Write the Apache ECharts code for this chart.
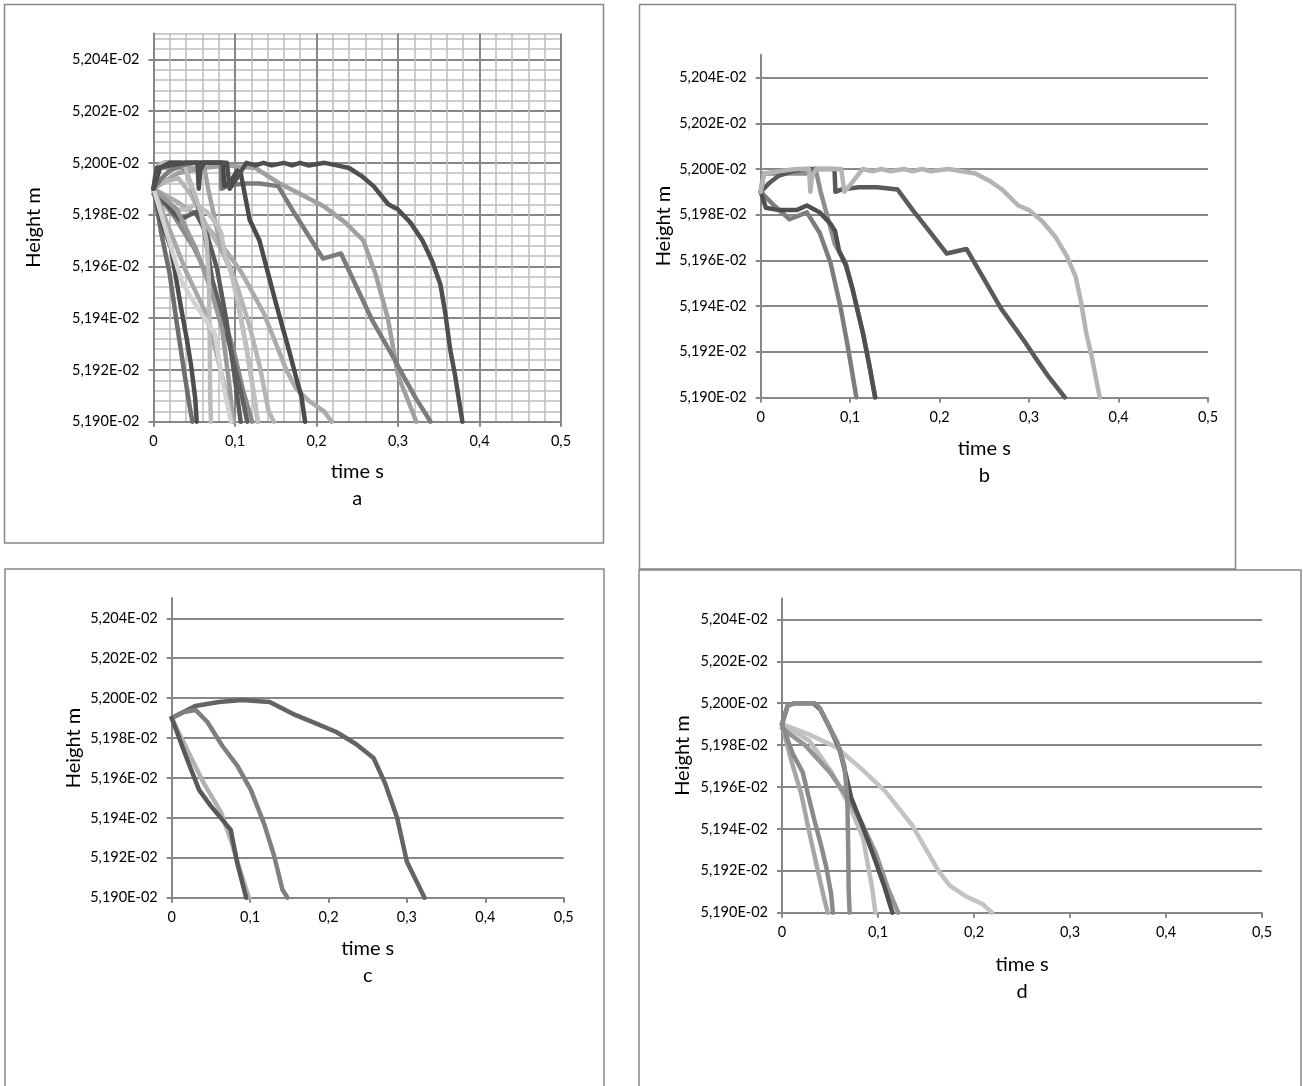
<!DOCTYPE html>
<html><head><meta charset="utf-8">
<script src="https://cdn.jsdelivr.net/npm/echarts@6/dist/echarts.min.js"></script>
<style>html,body{margin:0;padding:0;background:#fff}#c{width:1303px;height:1086px}</style>
</head><body><div id="c"></div>
<script>
// Heights are in units of 1E-02 m, time in s
const yTickValues = [5.190, 5.192, 5.194, 5.196, 5.198, 5.200, 5.202, 5.204];
const xTickValues = [0, 0.1, 0.2, 0.3, 0.4, 0.5];
const panelCaptions = ['a', 'b', 'c', 'd'];

// Panel b curves
const curveB1 = [[0,5.1990],[0.004,5.1998],[0.02,5.1999],[0.04,5.2000],[0.054,5.2000],[0.0555,5.1990],[0.0575,5.1997],[0.062,5.2000],[0.075,5.2000],[0.09,5.2000],[0.0935,5.1990],[0.1,5.1993],[0.108,5.1997],[0.114,5.2000],[0.125,5.1999],[0.135,5.2000],[0.145,5.1999],[0.16,5.2000],[0.17,5.1999],[0.18,5.2000],[0.19,5.1999],[0.21,5.2000],[0.225,5.1999],[0.24,5.1998],[0.255,5.1995],[0.27,5.1991],[0.288,5.1984],[0.3,5.1982],[0.315,5.1977],[0.33,5.1970],[0.342,5.1962],[0.352,5.1953],[0.358,5.1942],[0.364,5.1928],[0.37,5.1918],[0.374,5.1910],[0.379,5.1900]];
const curveB2 = [[0,5.1990],[0.01,5.1994],[0.02,5.1997],[0.035,5.1999],[0.05,5.2000],[0.0825,5.2000],[0.0835,5.1990],[0.09,5.1991],[0.11,5.1992],[0.13,5.1992],[0.153,5.1991],[0.17,5.1982],[0.19,5.1972],[0.208,5.1963],[0.23,5.1965],[0.2686,5.1939],[0.295,5.19245],[0.306,5.1918],[0.322,5.1909],[0.34,5.1900]];
const curveB3 = [[0,5.1990],[0.0058,5.1983],[0.02,5.1982],[0.04,5.1982],[0.0516,5.1984],[0.066,5.1981],[0.078,5.1976],[0.083,5.1973],[0.0877,5.1964],[0.095,5.1958],[0.1023,5.1948],[0.1144,5.1928],[0.1215,5.1914],[0.128,5.1900]];
const curveB4 = [[0,5.1990],[0.003,5.1998],[0.03,5.1998],[0.055,5.1998],[0.0613,5.2000],[0.067,5.1990],[0.0733,5.1981],[0.083,5.1967],[0.095,5.1959],[0.1023,5.1948],[0.1144,5.1928],[0.1215,5.1914],[0.1278,5.1900]];
const curveB5 = [[0,5.1990],[0.015,5.1984],[0.0323,5.1978],[0.0516,5.1981],[0.066,5.1972],[0.078,5.1959],[0.089,5.1940],[0.0975,5.1922],[0.107,5.1900]];

// Panel c curves
const curveC1 = [[0,5.1990],[0.02,5.1969],[0.0349,5.1954],[0.0498,5.1946],[0.0647,5.1939],[0.0753,5.1934],[0.0838,5.1917],[0.095,5.1900]];
const curveC2 = [[0,5.1990],[0.02,5.1974],[0.04,5.1958],[0.0626,5.1943],[0.0753,5.1929],[0.087,5.1914],[0.0985,5.1900]];
const curveC3 = [[0,5.1990],[0.0157,5.1993],[0.0306,5.1994],[0.0455,5.1988],[0.0647,5.1976],[0.0838,5.1966],[0.1009,5.1954],[0.1179,5.1937],[0.1306,5.1921],[0.1413,5.1904],[0.1477,5.1900]];
const curveC4 = [[0,5.1990],[0.03,5.1996],[0.06,5.1998],[0.09,5.1999],[0.125,5.1998],[0.155,5.1992],[0.18,5.1988],[0.21,5.1983],[0.235,5.1977],[0.2575,5.1970],[0.2725,5.1957],[0.2875,5.1940],[0.30,5.1918],[0.3125,5.1908],[0.3225,5.1900]];

// Panel d curves
const curveD1 = [[0,5.1990],[0.006,5.1999],[0.013,5.2000],[0.034,5.2000],[0.039,5.1998],[0.048,5.1990],[0.058,5.1981],[0.065,5.1970],[0.068,5.1955],[0.069,5.1930],[0.0695,5.1910],[0.0705,5.1900]];
const curveD2 = [[0,5.1990],[0.006,5.1999],[0.013,5.2000],[0.033,5.2000],[0.04,5.1997],[0.05,5.1988],[0.06,5.1978],[0.067,5.1965],[0.072,5.1955],[0.085,5.1940],[0.097,5.1925],[0.107,5.1912],[0.115,5.1900]];
const curveD3 = [[0,5.1990],[0.0111,5.1976],[0.0216,5.1967],[0.0268,5.1957],[0.0338,5.1944],[0.0408,5.1932],[0.046,5.1922],[0.0512,5.1909],[0.053,5.1900]];
const curveD4 = [[0,5.1990],[0.0094,5.1973],[0.0199,5.1957],[0.0286,5.1938],[0.0373,5.1920],[0.0443,5.1906],[0.0477,5.1900]];
const curveD5 = [[0,5.1990],[0.0287,5.1985],[0.0565,5.1979],[0.082,5.1969],[0.1074,5.1958],[0.1352,5.1942],[0.163,5.1920],[0.1745,5.1913],[0.1908,5.1908],[0.2094,5.1904],[0.2186,5.1900]];
const curveD6 = [[0,5.1990],[0.0287,5.1982],[0.0518,5.1967],[0.0704,5.1951],[0.0842,5.1936],[0.0935,5.1913],[0.0973,5.1900]];
const curveD7 = [[0,5.1988],[0.024,5.1980],[0.05,5.1967],[0.068,5.1955],[0.083,5.1943],[0.098,5.1928],[0.11,5.1912],[0.121,5.1900]];

// Extra curve only in panel a
const curveA1 = [[0,5.1990],[0.008,5.1998],[0.02,5.2000],[0.085,5.2000],[0.087,5.1991],[0.095,5.1993],[0.103,5.1997],[0.107,5.1996],[0.118,5.1978],[0.13,5.1970],[0.14,5.1958],[0.15,5.1946],[0.1676,5.1926],[0.1759,5.1916],[0.1813,5.1910],[0.186,5.1900]];

const FONT = 'Lato, "Open Sans", sans-serif';
const AX = '#878787', MAJ = '#878787', MIN = '#bdbdbd', TXT = '#000';
const fmtY = v => v.toFixed(3).replace('.', ',') + 'E-02';
const fmtX = v => (Math.round(v * 10) / 10).toString().replace('.', ',');

const boxes = [
  {left: 153.5, top: 33.4, width: 407.5, height: 388.3},
  {left: 760.7, top: 54.7, width: 447.3, height: 342.8},
  {left: 171.7, top: 598.3, width: 392, height: 299.4},
  {left: 782, top: 598.5, width: 480, height: 314.2}
];
const xNameGaps = [36, 38, 37, 38];
const yNameGaps = [110, 87, 88, 89];

const grids = boxes.map(b => Object.assign({containLabel: false, outerBoundsMode: 'none'}, b));
const xAxes = [], yAxes = [];

// panel a minor grid axes
xAxes.push({type: 'value', gridIndex: 0, min: 0, max: 0.5, interval: 0.02, position: 'bottom',
  axisLine: {show: false}, axisTick: {show: false}, axisLabel: {show: false},
  splitLine: {show: true, lineStyle: {color: MIN, width: 1.5}}});
yAxes.push({type: 'value', gridIndex: 0, min: 5.190, max: 5.205, interval: 0.0004, position: 'left',
  axisLine: {show: false}, axisTick: {show: false}, axisLabel: {show: false},
  splitLine: {show: true, lineStyle: {color: MIN, width: 1.5}}});

for (let i = 0; i < 4; i++) {
  xAxes.push({type: 'value', gridIndex: i, min: 0, max: 0.5, interval: 0.1, position: 'bottom',
    axisLine: {show: true, onZero: false, lineStyle: {color: AX, width: 2}},
    axisTick: {show: true, length: 5, customValues: xTickValues, lineStyle: {color: AX, width: 2}},
    axisLabel: {show: true, customValues: xTickValues, formatter: fmtX, margin: 12, fontSize: 14.5, fontFamily: FONT, color: TXT},
    splitLine: {show: i === 0, lineStyle: {color: MAJ, width: 2}},
    name: 'time s\n' + panelCaptions[i], nameLocation: 'middle', nameGap: xNameGaps[i],
    nameTextStyle: {fontSize: 20, lineHeight: 27, fontFamily: FONT, color: TXT, align: 'center'}});
  yAxes.push({type: 'value', gridIndex: i, min: 5.190, max: 5.205, interval: 0.002, position: 'left',
    axisLine: {show: true, onZero: false, lineStyle: {color: AX, width: 2}},
    axisTick: {show: true, length: 5, customValues: yTickValues, lineStyle: {color: AX, width: 2}},
    axisLabel: {show: true, customValues: yTickValues, formatter: fmtY, margin: 14, fontSize: 14.5, fontFamily: FONT, color: TXT},
    splitLine: {show: true, lineStyle: {color: MAJ, width: 2}},
    name: 'Height m', nameLocation: 'middle', nameGap: yNameGaps[i], nameRotate: 90,
    nameTextStyle: {fontSize: 20, fontFamily: FONT, color: TXT}});
}

const series = [];
function addLine(panel, data, color) {
  const ax = panel + 1;
  series.push({type: 'line', xAxisIndex: ax, yAxisIndex: ax, data: data, showSymbol: false, symbol: 'none',
    silent: true, clip: true, lineStyle: {color: color, width: 4.5, cap: 'round', join: 'round'}});
}
// panel a (union)
addLine(0, curveD5, '#ababab');
addLine(0, curveC4, '#a0a0a0');
addLine(0, curveC3, '#b5b5b5');
addLine(0, curveD7, '#8a8a8a');
addLine(0, curveB4, '#a3a3a3');
addLine(0, curveB3, '#c0c0c0');
addLine(0, curveD2, '#606060');
addLine(0, curveB5, '#5a5a5a');
addLine(0, curveD6, '#999999');
addLine(0, curveC2, '#a8a8a8');
addLine(0, curveD4, '#6e6e6e');
addLine(0, curveD3, '#4d4d4d');
addLine(0, curveD1, '#bcbcbc');
addLine(0, curveC1, '#d2d2d2');
addLine(0, curveB2, '#7c7c7c');
addLine(0, curveA1, '#4a4a4a');
addLine(0, curveB1, '#4f4f4f');
// panel b
addLine(1, curveB5, '#7d7d7d');
addLine(1, curveB4, '#8e8e8e');
addLine(1, curveB3, '#4f4f4f');
addLine(1, curveB2, '#5a5a5a');
addLine(1, curveB1, '#b4b4b4');
// panel c
addLine(2, curveC4, '#646464');
addLine(2, curveC3, '#7f7f7f');
addLine(2, curveC2, '#b2b2b2');
addLine(2, curveC1, '#585858');
// panel d
addLine(3, curveD5, '#c3c3c3');
addLine(3, curveD6, '#bebebe');
addLine(3, curveD7, '#959595');
addLine(3, curveD2, '#4f4f4f');
addLine(3, curveD1, '#8b8b8b');
addLine(3, curveD4, '#a6a6a6');
addLine(3, curveD3, '#8a8a8a');

const frame = (x, y, w, h) => ({type: 'rect', silent: true, z: 100,
  shape: {x: x, y: y, width: w, height: h}, style: {fill: 'none', stroke: '#878787', lineWidth: 1.5}});

const chart = echarts.init(document.getElementById('c'), null, {renderer: 'canvas'});
chart.setOption({
  animation: false,
  backgroundColor: '#ffffff',
  grid: grids,
  xAxis: xAxes,
  yAxis: yAxes,
  series: series,
  graphic: [
    frame(4.5, 4.5, 599, 538.5),
    frame(639.5, 4.5, 596, 564.5),
    frame(5, 569, 599, 530),
    frame(639, 570, 662, 530)
  ]
});
</script></body></html>
